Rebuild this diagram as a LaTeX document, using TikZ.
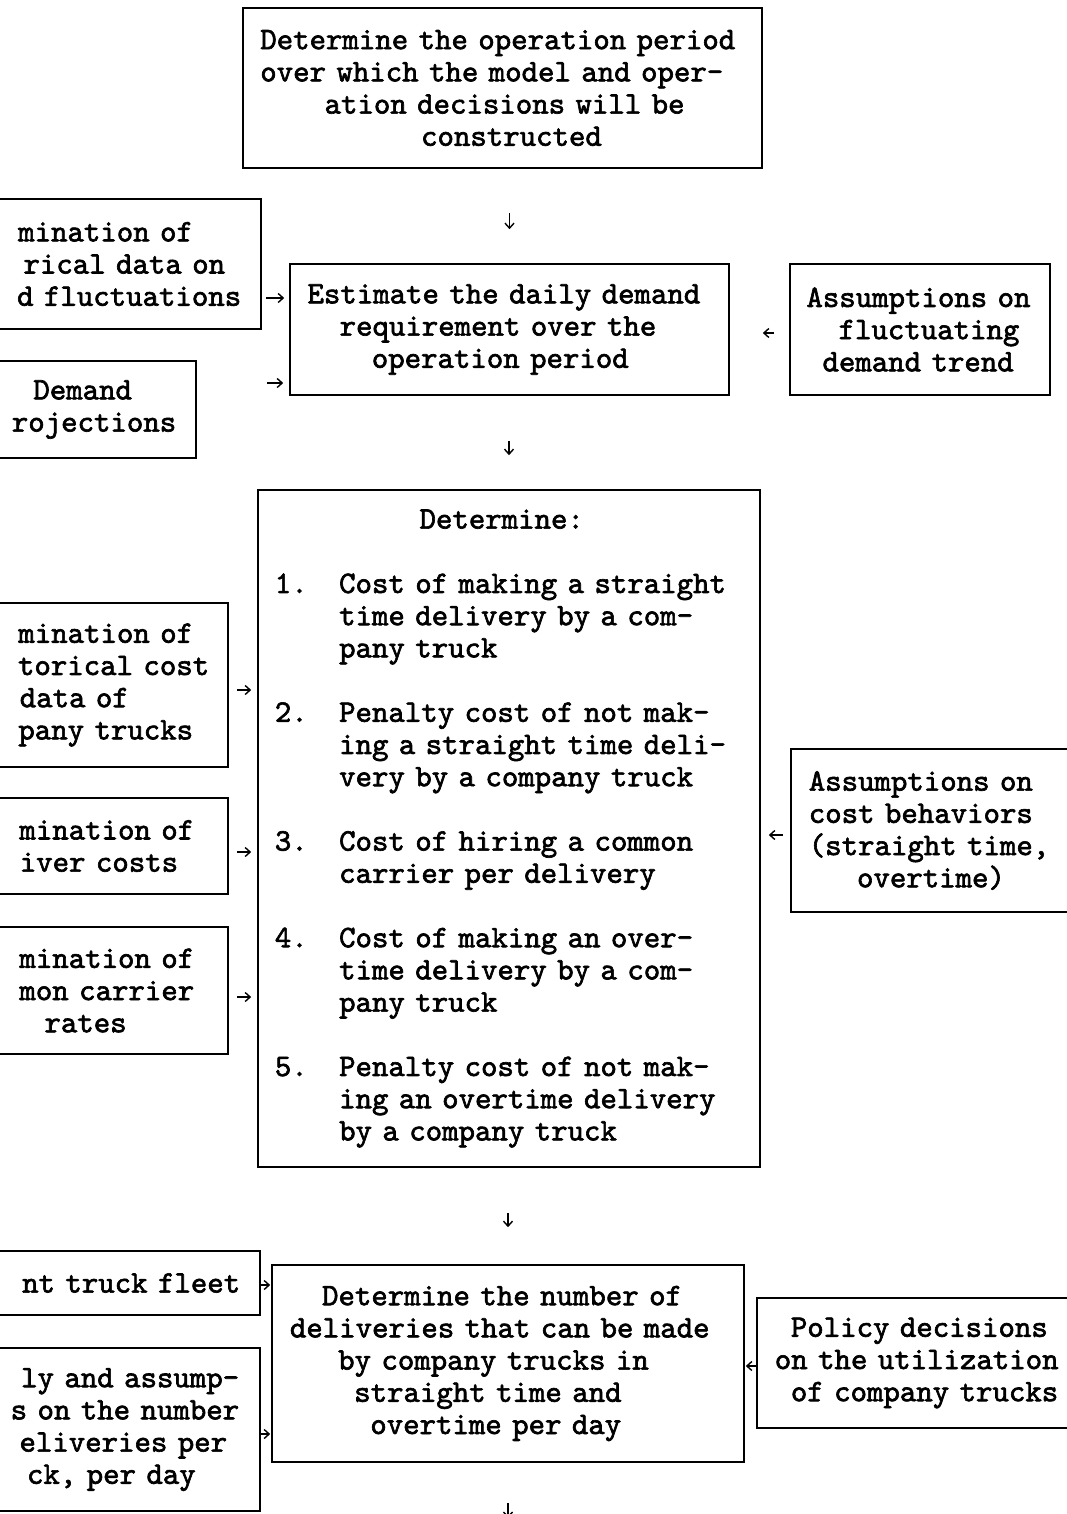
\documentclass[tikz,border=0pt]{standalone}
\usepackage{fontspec}
\newfontfamily\tw{lmmono10-regular}[Extension=.otf, RawFeature={embolden=2}]
\usetikzlibrary{arrows.meta}
\newlength\cw
\setlength\cw{16.08pt}
\newcommand\pad[1]{\leavevmode\hbox to #1\cw{}}
\newcommand\itm[1]{\leavevmode\makebox[4\cw][l]{#1}}
\newcommand\Ln[1]{\mbox{#1}}
\tikzset{
  box/.style={draw, line width=1.6pt, inner sep=0pt,
    font=\tw\fontsize{31.3pt}{32.2pt}\selectfont},
  cbox/.style={box, align=left},
  lbox/.style={box, align=right, text width=300pt, anchor=east},
  rbox/.style={box, align=left, text width=300pt, anchor=west},
  arr/.style={line width=1.4pt, -{Straight Barb[length=5pt,width=9pt,line width=1.4pt]}},
}
\begin{document}
\begin{tikzpicture}[x=1pt,y=-1pt]
\path[use as bounding box, fill=white] (0,0) rectangle (1066,1514);

% top
\node[cbox, text width=30\cw+2pt, minimum width=519pt, minimum height=160pt] (top) at (502.5,88)
 {\Ln{Determine the operation period}\\\Ln{over which the model and oper-}\\\Ln{\pad{4}ation decisions will be}\\\Ln{\pad{10}constructed}};

% demand row
\node[lbox, inner xsep=20pt, minimum height=130pt] (hist) at (262,264)
 {mination of\pad{3}\\rical data on\pad{1}\\d fluctuations};
\node[lbox, inner xsep=20pt, minimum height=97pt] (dem) at (197,409.5)
 {Demand\pad{2.75}\\rojections};
\node[cbox, text width=25\cw+2pt, minimum width=439pt, minimum height=131pt] (est) at (509.5,329.5)
 {\Ln{Estimate the daily demand}\\\Ln{\pad{2}requirement over the}\\\Ln{\pad{4}operation period}};
\node[cbox, text width=14\cw+2pt, minimum width=260pt, minimum height=131pt] (fluct) at (920,329.5)
 {\Ln{Assumptions on}\\\Ln{\pad{2}fluctuating}\\\Ln{\pad{1}demand trend}};

% cost row
\node[lbox, inner xsep=19pt, minimum height=164pt] (hcost) at (229,685)
 {mination of\pad{1}\\torical cost\\data of\pad{5}\\pany trucks\pad{1}};
\node[lbox, inner xsep=34pt, minimum height=96pt] (drv) at (229,846)
 {mination of\\iver costs\pad{1}};
\node[lbox, inner xsep=34pt, minimum height=127pt] (ccr) at (229,990.5)
 {mination of\\mon carrier\\rates\pad{4.2}};
\node[cbox, text width=29\cw+2pt, minimum width=502pt, minimum height=677pt] (det) at (509,828.5)
 {\Ln{\pad{9}Determine:}\\[32.2pt]
  \Ln{\itm{1.}Cost of making a straight}\\\Ln{\pad{4}time delivery by a com-}\\\Ln{\pad{4}pany truck}\\[32.2pt]
  \Ln{\itm{2.}Penalty cost of not mak-}\\\Ln{\pad{4}ing a straight time deli-}\\\Ln{\pad{4}very by a company truck}\\[32.2pt]
  \Ln{\itm{3.}Cost of hiring a common}\\\Ln{\pad{4}carrier per delivery}\\[32.2pt]
  \Ln{\itm{4.}Cost of making an over-}\\\Ln{\pad{4}time delivery by a com-}\\\Ln{\pad{4}pany truck}\\[32.2pt]
  \Ln{\itm{5.}Penalty cost of not mak-}\\\Ln{\pad{4}ing an overtime delivery}\\\Ln{\pad{4}by a company truck}};
\node[rbox, inner xsep=18pt, minimum height=163pt] (cost) at (790,830.5)
 {Assumptions on\\cost behaviors\\(straight time,\\\pad{3}overtime)};

% delivery row
\node[lbox, inner xsep=20pt, minimum height=64pt] (fleet) at (261,1283)
 {nt truck fleet};
\node[lbox, inner xsep=21pt, minimum height=163pt] (study) at (261,1429.5)
 {ly and assump-\\s on the number\\eliveries per\pad{0.75}\\ck, per day\pad{2.7}};
\node[cbox, text width=27\cw+2pt, minimum width=472pt, minimum height=197pt] (num) at (508,1363.5)
 {\Ln{\pad{2}Determine the number of}\\\Ln{deliveries that can be made}\\\Ln{\pad{3}by company trucks in}\\\Ln{\pad{4}straight time and}\\\Ln{\pad{5}overtime per day}};
\node[rbox, inner xsep=18pt, minimum height=130pt] (pol) at (756,1363)
 {\pad{1}Policy decisions\\on the utilization\\\pad{1}of company trucks};

% arrow levels
\coordinate (yA) at (0,298);
\coordinate (yB) at (0,383);
\coordinate (yC) at (0,333);
\coordinate (yD) at (0,690);
\coordinate (yE) at (0,852);
\coordinate (yF) at (0,997);
\coordinate (yG) at (0,835);
\coordinate (yH) at (0,1285);
\coordinate (yI) at (0,1434);
\coordinate (yJ) at (0,1366);
\coordinate (yEnd) at (0,1518);

\draw[arr, shorten <=44pt, shorten >=34pt] (top.south -| est.north) -- (est.north);
\draw[arr, shorten <=4pt, shorten >=5pt] (hist.east |- yA) -- (est.west |- yA);
\draw[arr, shorten <=70pt, shorten >=6pt] (dem.east |- yB) -- (est.west |- yB);
\draw[arr, shorten <=15pt, shorten >=33pt] (fluct.west |- yC) -- (est.east |- yC);

\draw[arr, shorten <=45pt, shorten >=34pt] (est.south -| det.north) -- (det.north);
\draw[arr, shorten <=8pt, shorten >=6pt] (hcost.east |- yD) -- (det.west |- yD);
\draw[arr, shorten <=8pt, shorten >=6pt] (drv.east |- yE) -- (det.west |- yE);
\draw[arr, shorten <=8pt, shorten >=6pt] (ccr.east |- yF) -- (det.west |- yF);
\draw[arr, shorten <=7pt, shorten >=8pt] (cost.west |- yG) -- (det.east |- yG);

\draw[arr, shorten <=45pt, shorten >=37pt] (det.south -| num.north) -- (num.north);
\draw[arr, shorten >=1pt] (fleet.east |- yH) -- (num.west |- yH);
\draw[arr, shorten >=1pt] (study.east |- yI) -- (num.west |- yI);
\draw[arr, shorten >=1pt] (pol.west |- yJ) -- (num.east |- yJ);
\draw[arr, shorten <=40pt] (num.south) -- (num.south |- yEnd);
\end{tikzpicture}
\end{document}
